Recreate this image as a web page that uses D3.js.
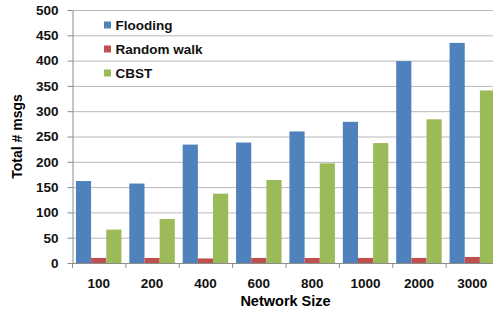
<!DOCTYPE html>
<html>
<head>
<meta charset="utf-8">
<script src="https://cdn.jsdelivr.net/npm/d3@7"></script>
<style>
  body { margin: 0; background: #fff; }
  svg { display: block; font-family: "Liberation Sans", Arial, sans-serif; }
</style>
</head>
<body>
<script>
// data
var sizes = ["100", "200", "400", "600", "800", "1000", "2000", "3000"];
var seriesNames = ["Flooding", "Random walk", "CBST"];
var flooding = [162, 157, 234, 238, 260, 279, 399, 435];
var randomWalk = [10, 10, 9, 10, 10, 10, 10, 12];
var cbst = [66, 87, 137, 164, 197, 237, 284, 341];
var yTicks = [0, 50, 100, 150, 200, 250, 300, 350, 400, 450, 500];
var colors = ["#4f81bd", "#c0504d", "#9bbb59"];

var series = [flooding, randomWalk, cbst];

// layout
var width = 493, height = 311;
var margin = { top: 10, right: -6, bottom: 48, left: 72 };

var svg = d3.select("body")
  .append("svg")
  .attr("width", width)
  .attr("height", height);

var x = d3.scaleBand()
  .domain(sizes)
  .range([margin.left, width - margin.right])
  .paddingInner(0)
  .paddingOuter(0);

var xInner = d3.scaleBand()
  .domain(seriesNames)
  .range([0, x.bandwidth()])
  .paddingOuter(0.26)
  .paddingInner(0);

var y = d3.scaleLinear()
  .domain([0, 500])
  .range([height - margin.bottom, margin.top]);

// gridlines
svg.append("g")
  .selectAll("line")
  .data(yTicks.slice(1))
  .join("line")
  .attr("x1", margin.left)
  .attr("x2", width - margin.right)
  .attr("y1", function(d) { return y(d) + 0.5; })
  .attr("y2", function(d) { return y(d) + 0.5; })
  .attr("stroke", "#b8b8b8")
  .attr("stroke-width", 1);

// bars
var groups = svg.append("g")
  .selectAll("g")
  .data(sizes)
  .join("g")
  .attr("transform", function(d) { return "translate(" + x(d) + ",0)"; });

groups.selectAll("rect")
  .data(function(d, i) {
    return seriesNames.map(function(s, j) { return { name: s, value: series[j][i], k: j }; });
  })
  .join("rect")
  .attr("x", function(d) { return xInner(d.name); })
  .attr("width", xInner.bandwidth())
  .attr("y", function(d) { return y(d.value); })
  .attr("height", function(d) { return y(0) - y(d.value); })
  .attr("fill", function(d) { return colors[d.k]; });

// x axis
var xAxis = svg.append("g")
  .attr("transform", "translate(0," + y(0) + ")")
  .call(d3.axisBottom(x).tickSize(0).tickPadding(15));
xAxis.select(".domain").attr("stroke", "#8c8c8c");
xAxis.selectAll("text")
  .attr("font-size", 13.5)
  .attr("font-weight", "bold")
  .attr("font-family", "Liberation Sans, Arial, sans-serif")
  .attr("fill", "#111");

// category separators
svg.append("g")
  .selectAll("line")
  .data(sizes)
  .join("line")
  .attr("x1", function(d) { return x(d) + 0.5; })
  .attr("x2", function(d) { return x(d) + 0.5; })
  .attr("y1", y(0))
  .attr("y2", y(0) + 5)
  .attr("stroke", "#8c8c8c");

// y axis
var yAxis = svg.append("g")
  .attr("transform", "translate(" + (margin.left + 0.5) + ",0)")
  .call(d3.axisLeft(y).tickValues(yTicks).tickSize(5).tickSizeOuter(0).tickPadding(9));
yAxis.select(".domain").attr("stroke", "#8c8c8c");
yAxis.selectAll(".tick line").attr("stroke", "#8c8c8c");
yAxis.selectAll("text")
  .attr("font-size", 13.5)
  .attr("font-weight", "bold")
  .attr("font-family", "Liberation Sans, Arial, sans-serif")
  .attr("fill", "#111");

// axis titles
svg.append("text")
  .attr("x", (margin.left + width - margin.right) / 2)
  .attr("y", 306)
  .attr("text-anchor", "middle")
  .attr("font-size", 14.5)
  .attr("font-weight", "bold")
  .text("Network Size");

svg.append("text")
  .attr("transform", "translate(22," + (y(250)) + ") rotate(-90)")
  .attr("text-anchor", "middle")
  .attr("font-size", 14)
  .attr("font-weight", "bold")
  .text("Total # msgs");

// legend
var legend = svg.append("g")
  .selectAll("g")
  .data(seriesNames)
  .join("g")
  .attr("transform", function(d, i) { return "translate(104," + (25 + i * 24) + ")"; });

legend.append("rect")
  .attr("x", 0)
  .attr("y", -3.5)
  .attr("width", 7)
  .attr("height", 7)
  .attr("fill", function(d, i) { return colors[i]; });

legend.append("text")
  .attr("x", 11.5)
  .attr("y", 5)
  .attr("font-size", 13.5)
  .attr("font-weight", "bold")
  .attr("fill", "#111")
  .text(function(d) { return d; });
</script>
</body>
</html>
